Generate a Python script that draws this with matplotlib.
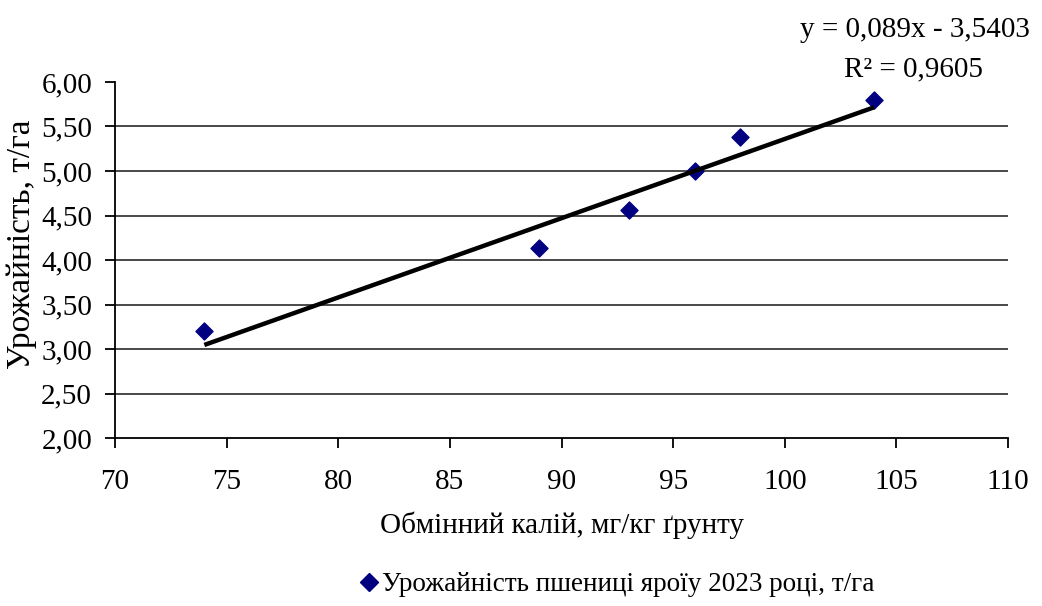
import matplotlib
matplotlib.use("Agg")
import matplotlib.pyplot as plt
from matplotlib.lines import Line2D
import numpy as np

# Data: exchangeable potassium vs spring wheat yield, 2023
potassium = [74, 89, 93, 96, 98, 104]
yield_t_ha = [3.20, 4.13, 4.56, 5.00, 5.38, 5.80]

slope = 0.089
intercept = -3.5403
r_squared = 0.9605

x_ticks = [70, 75, 80, 85, 90, 95, 100, 105, 110]
y_ticks = [2.00, 2.50, 3.00, 3.50, 4.00, 4.50, 5.00, 5.50, 6.00]

x_label = "Обмінний калій, мг/кг ґрунту"
y_label = "Урожайність, т/га"
series_label = "Урожайність пшениці яроїу 2023 році, т/га"

plt.rcParams["font.family"] = ["Liberation Serif", "DejaVu Serif"]

fig = plt.figure(figsize=(10.42, 6.06), dpi=100)
ax = fig.add_axes([0.1104, 0.2772, 0.857, 0.5875])

ax.set_xlim(70, 110)
ax.set_ylim(2.0, 6.0)

# horizontal gridlines (no line at the top of the range)
for yv in y_ticks[1:-1]:
    ax.axhline(yv, color="#3a3a3a", lw=1.3, zorder=1)

ax.scatter(potassium, yield_t_ha, marker="D", s=75, color="#000080",
           zorder=3, label=series_label)

# linear trend line across the observed range
xt = np.array([min(potassium), max(potassium)])
ax.plot(xt, slope * xt + intercept, color="black", lw=3.2, zorder=4,
        solid_capstyle="butt")

ax.set_xticks(x_ticks)
ax.set_yticks(y_ticks)
ax.set_xticklabels([str(v) for v in x_ticks])
ax.set_yticklabels([f"{v:.2f}".replace(".", ",") for v in y_ticks])
ax.tick_params(axis="both", direction="out", length=7.5, width=1.3,
               labelsize=21, colors="black")
ax.tick_params(axis="x", pad=15)
ax.tick_params(axis="y", pad=9)

for side in ("top", "right"):
    ax.spines[side].set_visible(False)
for side in ("left", "bottom"):
    ax.spines[side].set_linewidth(1.3)

ax.set_xlabel(x_label, fontsize=21, labelpad=12)
ax.set_ylabel(y_label, fontsize=24)
ax.yaxis.set_label_coords(-0.0875, 0.545)

eq = f"y = {slope:.3f}x - {abs(intercept):.4f}".replace(".", ",")
r2 = f"R² = {r_squared:.4f}".replace(".", ",")
fig.text(0.878, 0.950, eq, ha="center", va="center", fontsize=21)
fig.text(0.877, 0.886, r2, ha="center", va="center", fontsize=21)

handle = Line2D([], [], marker="D", linestyle="none", color="#000080",
                markersize=9)
fig.legend([handle], [series_label], loc="center", bbox_to_anchor=(0.59, 0.035),
           frameon=False, fontsize=19.5, handletextpad=0.0, handlelength=1.0)

fig.savefig("out.png", dpi=100)
